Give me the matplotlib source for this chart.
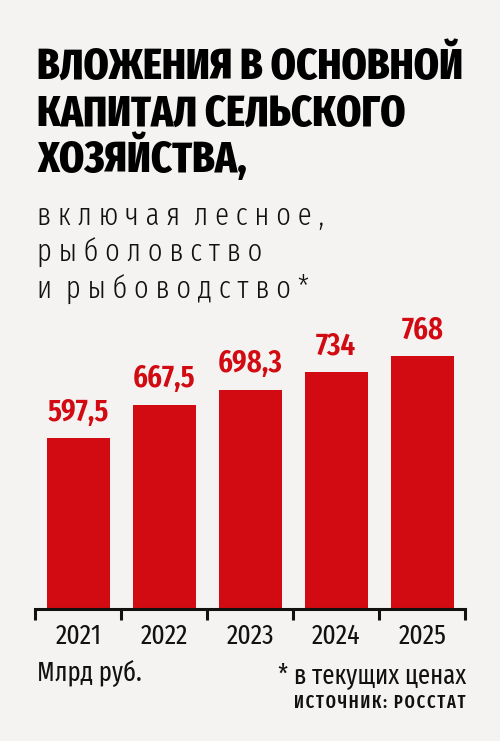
import matplotlib
matplotlib.use("Agg")
import matplotlib.pyplot as plt
from matplotlib.ticker import FixedLocator

# ---- data ----
years = ["2021", "2022", "2023", "2024", "2025"]
values = [597.5, 667.5, 698.3, 734, 768]
value_labels = ["597,5", "667,5", "698,3", "734", "768"]

title_lines = ["ВЛОЖЕНИЯ В ОСНОВНОЙ", "КАПИТАЛ СЕЛЬСКОГО", "ХОЗЯЙСТВА,"]
subtitle_lines = ["включая лесное,", "рыболовство", "и рыбоводство*"]
unit_text = "Млрд руб."
note_text = "* в текущих ценах"
source_text = "ИСТОЧНИК: РОССТАТ"

BG = "#f5f3f1"
RED = "#d20a11"
INK = "#111111"
W, H = 500, 741
XC = ["Fira Sans Extra Condensed", "DejaVu Sans"]


def spaced(s):
    # letter-spaced rendering of the subtitle (spaces between letters)
    return "  ".join(" ".join(list(w)) for w in s.split(" "))


def tracked(s):
    # light tracking with hair spaces
    return "\u200a".join(list(s))


fig = plt.figure(figsize=(W / 100, H / 100), dpi=100, facecolor=BG)


def fx(x):
    return x / W


def fy(y):
    return 1 - y / H


# axes: x from 35 to 466 px, baseline at 609 px, top at 300 px
ax = fig.add_axes([fx(35.3), fy(609), fx(465.3) - fx(35.3), fy(300) - fy(609)])
ax.set_facecolor(BG)
x = list(range(len(years)))
ax.bar(x, values, width=0.735, color=RED, zorder=2)
ax.set_xlim(-0.5, len(years) - 0.5)
ax.set_ylim(246, 883)
for s in ["top", "right", "left"]:
    ax.spines[s].set_visible(False)
ax.spines["bottom"].set_linewidth(2.2)
ax.spines["bottom"].set_color(INK)
ax.set_yticks([])
ax.set_xticks(x)
ax.set_xticklabels(years, fontfamily=XC, fontsize=20, color=INK)
ax.tick_params(axis="x", which="major", length=0, pad=10)
ax.xaxis.set_minor_locator(FixedLocator([i - 0.5 for i in range(len(years) + 1)]))
ax.tick_params(axis="x", which="minor", length=8, width=2.2, color=INK, direction="out")

for xi, v, lab in zip(x, values, value_labels):
    ax.annotate(lab, (xi, v), xytext=(0, 12.5), textcoords="offset points",
                ha="center", va="baseline", color=RED, fontsize=22.5,
                fontweight=600, fontfamily=XC)

# title
for i, line in enumerate(title_lines):
    fig.text(fx(37), fy(78.5 + 47 * i), line, fontsize=31.5, fontweight=800,
             fontfamily=XC, color="#000000", va="baseline", ha="left")

# subtitle
for i, line in enumerate(subtitle_lines):
    fig.text(fx(37), fy(225 + 36.5 * i), spaced(line), fontsize=22.2,
             fontweight=300, fontfamily=XC, color=INK, va="baseline", ha="left")

# footer
fig.text(fx(37), fy(681), unit_text, fontsize=19.3, fontfamily=XC,
         color=INK, va="baseline", ha="left")
fig.text(fx(466), fy(683), note_text, fontsize=19.3, fontfamily=XC,
         color=INK, va="baseline", ha="right")
fig.text(fx(466), fy(708), tracked(source_text), fontsize=12.8, fontweight=600,
         fontfamily=XC, color=INK, va="baseline", ha="right")

fig.savefig("out.png", dpi=100, facecolor=BG)
